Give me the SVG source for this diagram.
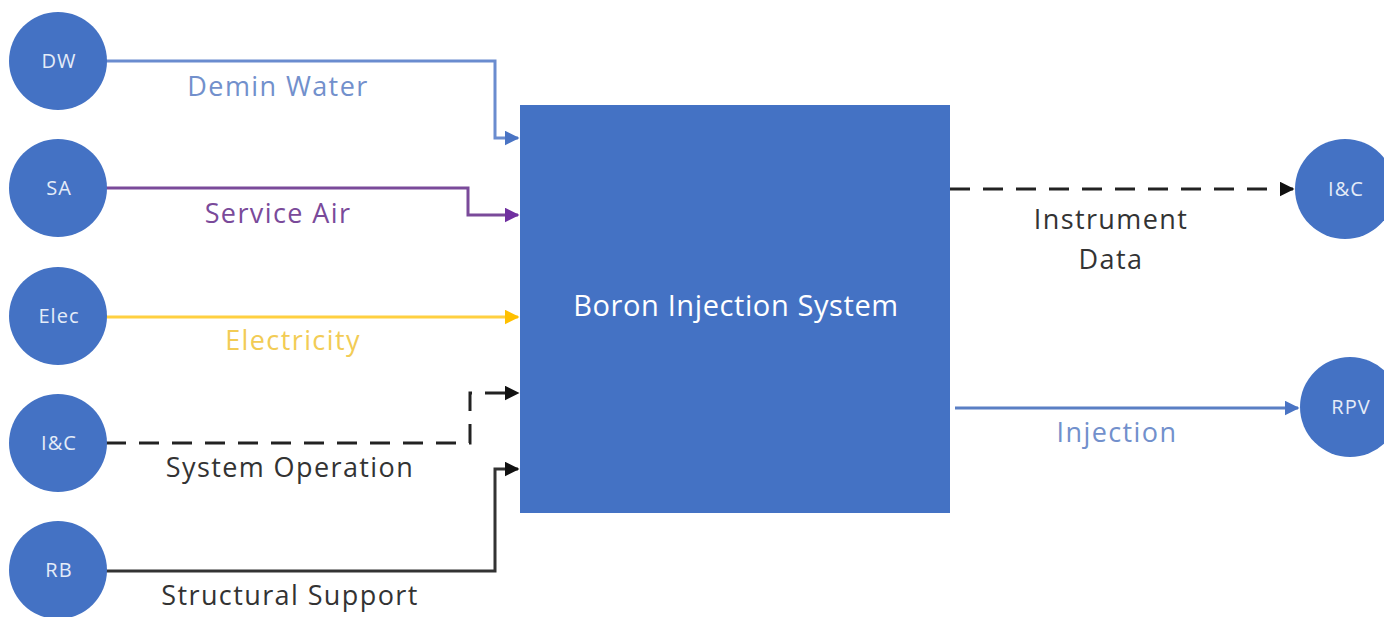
<svg xmlns="http://www.w3.org/2000/svg" width="1384" height="617" viewBox="0 0 1384 617">
<style>
.node{fill:#4472C4}
.nl{font-family:"Open Sans","Liberation Sans",sans-serif;font-size:20px;letter-spacing:1px;fill:#e4ecf8;text-anchor:middle}
.lbl{font-family:"Open Sans","Liberation Sans",sans-serif;font-size:27px;letter-spacing:1.4px;text-anchor:middle}
.c{fill:none;stroke-width:3}
</style>
<defs>
<marker id="aB" viewBox="0 0 10 10" refX="9" refY="5" markerWidth="5" markerHeight="5" orient="auto" markerUnits="strokeWidth"><path d="M0,0 L10,5 L0,10 z" fill="#4a74c4"/></marker>
<marker id="aP" viewBox="0 0 10 10" refX="9" refY="5" markerWidth="5" markerHeight="5" orient="auto" markerUnits="strokeWidth"><path d="M0,0 L10,5 L0,10 z" fill="#7030A0"/></marker>
<marker id="aY" viewBox="0 0 10 10" refX="9" refY="5" markerWidth="5" markerHeight="5" orient="auto" markerUnits="strokeWidth"><path d="M0,0 L10,5 L0,10 z" fill="#FFC000"/></marker>
<marker id="aK" viewBox="0 0 10 10" refX="9" refY="5" markerWidth="5" markerHeight="5" orient="auto" markerUnits="strokeWidth"><path d="M0,0 L10,5 L0,10 z" fill="#111"/></marker>
</defs>
<rect width="1384" height="617" fill="#fff"/>
<g id="connectors">
<path class="c" d="M106,61 H495 V138 H518" stroke="#6a8ccf" marker-end="url(#aB)"/>
<path class="c" d="M106,188 H468 V215 H518" stroke="#7a4a9a" marker-end="url(#aP)"/>
<path class="c" d="M106,317 H518" stroke="#FFC000" stroke-opacity="0.75" marker-end="url(#aY)"/>
<path class="c" d="M106,443 H470 V393 H518" stroke="#222" stroke-dasharray="20,13" marker-end="url(#aK)"/>
<path class="c" d="M106,571 H495 V469 H518" stroke="#333" marker-end="url(#aK)"/>
<path class="c" d="M950,189 H1293" stroke="#222" stroke-dasharray="20,13" marker-end="url(#aK)"/>
<path class="c" d="M955,408 H1298" stroke="#5a7fc4" marker-end="url(#aB)"/>
<text class="lbl" x="278" y="96" fill="#7290cc">Demin Water</text>
<text class="lbl" x="278" y="223" fill="#7a4a9a">Service Air</text>
<text class="lbl" x="293" y="350" fill="#f2cc55">Electricity</text>
<text class="lbl" x="290" y="477" fill="#333">System Operation</text>
<text class="lbl" x="290" y="605" fill="#333">Structural Support</text>
<text class="lbl" x="1111" y="229" fill="#333">Instrument</text>
<text class="lbl" x="1111" y="269" fill="#333">Data</text>
<text class="lbl" x="1117" y="442" fill="#7290cc">Injection</text>
</g>
<g id="box"><rect x="520" y="105" width="430" height="408" class="node"/><text x="736" y="316" font-family="Open Sans, Liberation Sans, sans-serif" font-size="29" letter-spacing="0.6" fill="#fff" text-anchor="middle">Boron Injection System</text></g>
<g id="dw"><circle cx="58" cy="61" r="49" class="node"/><text class="nl" x="59" y="68">DW</text></g>
<g id="sa"><circle cx="58" cy="188" r="49" class="node"/><text class="nl" x="59" y="195">SA</text></g>
<g id="elec"><circle cx="58" cy="316" r="49" class="node"/><text class="nl" x="59" y="323">Elec</text></g>
<g id="ic-in"><circle cx="58" cy="443" r="49" class="node"/><text class="nl" x="59" y="450">I&amp;C</text></g>
<g id="rb"><circle cx="58" cy="570" r="49" class="node"/><text class="nl" x="59" y="577">RB</text></g>
<g id="ic-out"><circle cx="1345" cy="189" r="50" class="node"/><text class="nl" x="1346" y="196">I&amp;C</text></g>
<g id="rpv"><circle cx="1350" cy="407" r="50" class="node"/><text class="nl" x="1351" y="414">RPV</text></g>
</svg>
